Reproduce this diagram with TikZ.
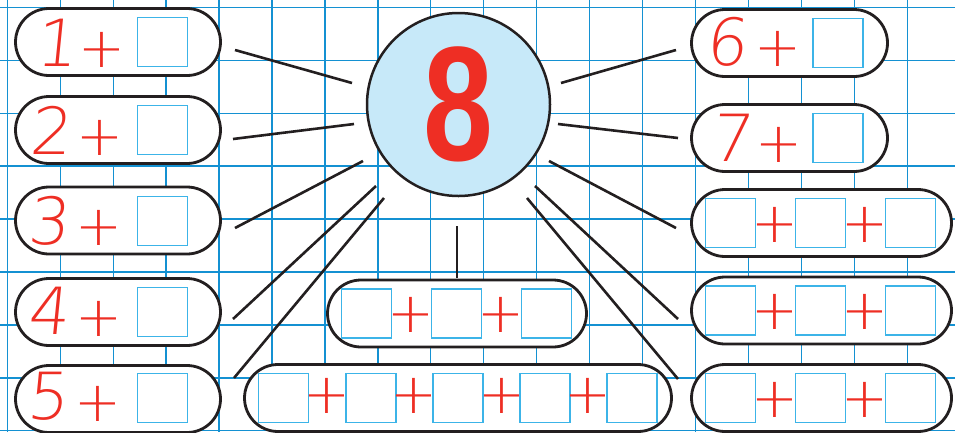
\documentclass[tikz,border=0pt]{standalone}
\usepackage{fontspec}
\newfontfamily\handfont{DejaVuSans-ExtraLight}[Extension=.ttf,FakeSlant=0.1]
\newfontfamily\plusfont{DejaVuSans-ExtraLight}[Extension=.ttf]
\newfontfamily\boldfont{Liberation Sans}[BoldFont={* Bold}]
\definecolor{gridblue}{RGB}{20,145,210}
\definecolor{boxblue}{RGB}{60,180,232}
\definecolor{handred}{RGB}{238,46,36}
\definecolor{circfill}{RGB}{199,233,249}
\definecolor{ink}{RGB}{35,31,32}
\tikzset{
  gridline/.style={draw=gridblue,line width=1.3pt},
  pill/.style={draw=ink,fill=white,line width=2.8pt,rectangle,rounded corners=33.5pt,minimum height=67pt,inner sep=0pt},
  blank/.style={draw=boxblue,fill=white,line width=1.2pt,rectangle,minimum width=50pt,minimum height=49pt,inner sep=0pt},
  digit/.style={text=handred,font=\handfont\fontsize{65pt}{65pt}\selectfont,inner sep=0pt},
  plussign/.style={text=handred,font=\plusfont\fontsize{56pt}{56pt}\selectfont,inner sep=0pt,anchor=base},
  conn/.style={draw=ink,line width=2.6pt},
}
\begin{document}
\begin{tikzpicture}[x=1pt,y=-1pt]
\useasboundingbox (0,0) rectangle (955,432);
\clip (0,0) rectangle (955,432);
% grid
\foreach \i in {0,...,17} \draw[gridline] ({7.3+52.94*\i},0) -- ({7.3+52.94*\i},432);
\foreach \j in {0,...,8} \draw[gridline] (0,{7.3+52.94*\j}) -- (955,{7.3+52.94*\j});
% left pills
\node[pill,minimum width=205pt] (p1) at (118,42) {};
\node[pill,minimum width=205pt] (p2) at (118,130) {};
\node[pill,minimum width=205pt] (p3) at (118,220.5) {};
\node[pill,minimum width=205pt] (p4) at (118,312) {};
\node[pill,minimum width=205pt] (p5) at (118,399) {};
% right pills
\node[pill,minimum width=196pt] (p6) at (789.5,43) {};
\node[pill,minimum width=196pt] (p7) at (789.5,138) {};
\node[pill,minimum width=260pt] (q1) at (821.5,223) {};
\node[pill,minimum width=260pt] (q2) at (821.5,310.5) {};
\node[pill,minimum width=260pt] (q3) at (821.5,398) {};
% middle pills
\node[pill,minimum width=259pt] (m1) at (457,313.5) {};
\node[pill,minimum width=427pt] (m2) at (458,398) {};
% left contents
\node[digit] (d1) at (56,43) {1};
\node[digit] (d2) at (50,130) {2};
\node[digit] (d3) at (48,221) {3};
\node[digit] (d4) at (48,311) {4};
\node[digit] (d5) at (47,396) {5};
\node[plussign] (s1) at (102,67) {+};
\node[plussign] (s2) at (100,155) {+};
\node[plussign] (s3) at (99,245) {+};
\node[plussign] (s4) at (99,336) {+};
\node[plussign] (s5) at (98,421) {+};
\node[blank] (b1) at (162.5,42) {};
\node[blank] (b2) at (162.5,130) {};
\node[blank] (b3) at (162.5,221) {};
\node[blank] (b4) at (162.5,312) {};
\node[blank] (b5) at (162.5,398) {};
% right 6, 7
\node[digit] (d6) at (726,42) {6};
\node[digit] (d7) at (731,138) {7};
\node[plussign] (s6) at (778,66) {+};
\node[plussign] (s7) at (779,162) {+};
\node[blank] (b6) at (838,43) {};
\node[blank] (b7) at (838,138) {};
% right three-box rows
\foreach \r/\y in {1/223,2/310.5,3/398}{
  \node[blank] (q\r a) at (730.5,\y) {};
  \node[blank] (q\r b) at (820.5,\y) {};
  \node[blank] (q\r c) at (910.5,\y) {};
  \node[plussign] (q\r s) at (775,\y+19) {+};
  \node[plussign] (q\r t) at (865,\y+19) {+};
}
% middle three-box
\node[blank] (m1a) at (366.5,313.5) {};
\node[blank] (m1b) at (456.5,313.5) {};
\node[blank] (m1c) at (546.5,313.5) {};
\node[plussign] (m1s) at (411,332) {+};
\node[plussign] (m1t) at (501,332) {+};
% bottom five-box
\node[blank] (m2a) at (283.5,398) {};
\node[blank] (m2b) at (371,398) {};
\node[blank] (m2c) at (458,398) {};
\node[blank] (m2d) at (545,398) {};
\node[blank] (m2e) at (632,398) {};
\node[plussign] (m2s) at (327,413) {+};
\node[plussign] (m2t) at (414,413) {+};
\node[plussign] (m2u) at (502,413) {+};
\node[plussign] (m2v) at (588,413) {+};
% circle
\node[circle,draw=ink,fill=circfill,line width=2.5pt,minimum size=183pt,inner sep=0pt] (c) at (458.5,104.5) {};
\node[text=handred,inner sep=0pt] (eight) at (458.5,104.5) {\scalebox{0.77}[1]{\boldfont\bfseries\fontsize{163pt}{163pt}\selectfont 8}};
% connector ends
\coordinate (l1a) at (235,50);  \coordinate (l1b) at (352,83);
\coordinate (l2a) at (233,139); \coordinate (l2b) at (354,124);
\coordinate (l3a) at (235,228); \coordinate (l3b) at (363,161);
\coordinate (l4a) at (233,319); \coordinate (l4b) at (376,186);
\coordinate (l5a) at (234,378); \coordinate (l5b) at (384,198);
\coordinate (r6a) at (676,50);  \coordinate (r6b) at (561,83);
\coordinate (r7a) at (678,138); \coordinate (r7b) at (558,124);
\coordinate (r3a) at (676,228); \coordinate (r3b) at (549,161);
\coordinate (r4a) at (678,319); \coordinate (r4b) at (535,186);
\coordinate (r5a) at (678,379); \coordinate (r5b) at (527,198);
\coordinate (mma) at (457,278); \coordinate (mmb) at (457,226);
\draw[conn] (l1a) -- (l1b);
\draw[conn] (l2a) -- (l2b);
\draw[conn] (l3a) -- (l3b);
\draw[conn] (l4a) -- (l4b);
\draw[conn] (l5a) -- (l5b);
\draw[conn] (r6a) -- (r6b);
\draw[conn] (r7a) -- (r7b);
\draw[conn] (r3a) -- (r3b);
\draw[conn] (r4a) -- (r4b);
\draw[conn] (r5a) -- (r5b);
\draw[conn] (mma) -- (mmb);
\end{tikzpicture}
\end{document}
